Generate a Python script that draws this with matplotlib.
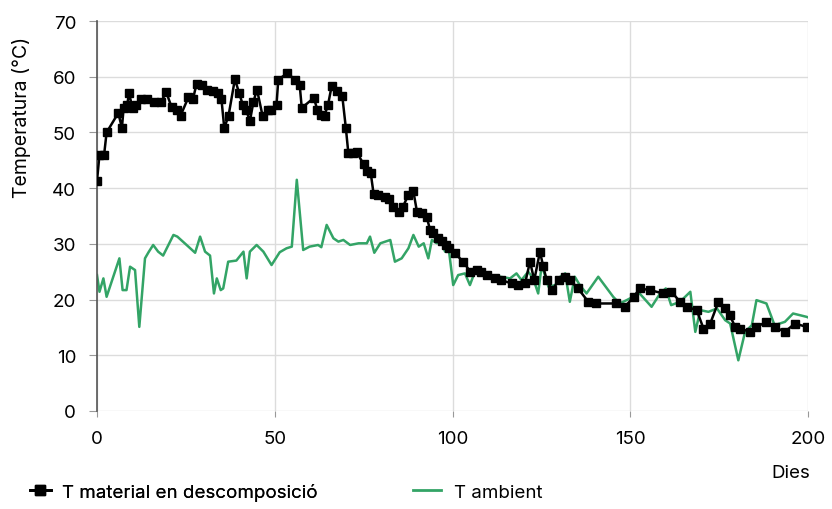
import matplotlib
matplotlib.use("Agg")
import matplotlib.pyplot as plt
from matplotlib.lines import Line2D

plt.rcParams['font.family'] = ['Inter', 'DejaVu Sans']

# Temperature of the composting material (days, degC)
mat_days = [0, 0.7, 2, 2.7, 6, 7, 7.5, 8.5, 9, 10, 11, 12.5, 14, 16, 18, 19.5, 21, 22.5,
            23.5, 25.7, 27, 28, 29.5, 31, 32.5, 34, 35, 35.8, 37, 38.8, 40, 41, 42, 43, 44,
            45, 46.6, 48, 49, 50.5, 51, 53.5, 55.7, 57, 57.6, 61, 62, 63, 64, 65, 66, 67.5,
            69, 70, 70.7, 72, 73, 75, 76, 77, 77.8, 79, 81, 82, 83.4, 85, 86, 87.6, 89, 90,
            91.5, 92.7, 93.7, 94.5, 95.8, 97, 98.3, 99, 100.7, 103, 105, 107, 108, 109.7,
            112, 113.7, 116.6, 118.5, 120.4, 121.8, 123, 124.6, 125.5, 126.5, 128, 130,
            131.6, 133, 135.3, 138.2, 140.5, 146, 148.5, 151, 152.7, 155.5, 159.3, 161.6,
            164, 165.9, 168.7, 170.6, 172.5, 174.8, 176.7, 178, 179.5, 181, 183.7, 185.5,
            188.3, 190.6, 193.5, 196.3, 199.6]
mat_temp = [41.3, 46, 46, 50, 53.5, 50.8, 54.4, 55, 57, 54.4, 55, 56, 56, 55.5, 55.5, 57.2,
            54.5, 54, 53, 56.3, 56, 58.7, 58.5, 57.7, 57.4, 57, 56, 50.8, 53, 59.6, 57, 55,
            54, 52, 55.5, 57.7, 52.9, 54, 54, 55, 59.5, 60.6, 59.5, 58.6, 54.4, 56.2, 54,
            53.2, 53, 55, 58.3, 57.4, 56.5, 50.8, 46.3, 46.3, 46.5, 44.3, 43, 42.7, 39, 38.8,
            38.5, 38, 36.7, 35.8, 36.6, 38.8, 39.4, 35.8, 35.5, 34.9, 32.5, 32, 31, 30.5,
            29.8, 29.2, 28.3, 26.8, 25, 25.3, 25, 24.5, 23.8, 23.5, 22.9, 22.6, 22.9, 26.8,
            23.5, 28.6, 26, 23.5, 21.7, 23.5, 24.1, 23.5, 22, 19.6, 19.3, 19.3, 18.7, 20.5,
            22, 21.7, 21.1, 21.4, 19.6, 18.7, 18.1, 14.8, 15.7, 19.6, 18.4, 17.2, 15.1, 14.8,
            14.2, 15.1, 16, 15.1, 14.2, 15.7, 15.1]

# Ambient temperature
amb_days = [0, 0.7, 1.8, 2.7, 6.3, 7.2, 8.3, 9.3, 10.7, 11.9, 13.5, 14.5, 15.8, 17.2, 18.6,
            21.5, 22.6, 25.2, 27.6, 29, 30.4, 31.8, 32.9, 33.7, 34.8, 35.5, 36.9, 39.2,
            41.2, 42.1, 43, 44.9, 46.8, 49.1, 51.4, 53.3, 54.8, 56.2, 58, 59.8, 62.2, 63.1,
            64.6, 66.5, 67.9, 69.3, 71.2, 73.6, 75.9, 76.8, 78, 79.7, 81.1, 82.5, 83.8,
            85.7, 87.6, 89, 90.5, 91.9, 93.2, 94.2, 95.6, 96.5, 97.9, 98.8, 100.2, 101.6,
            103.5, 104.9, 106.3, 107.8, 110.6, 113.4, 116.2, 118, 119.4, 121.3, 122.7,
            124.1, 125.1, 127, 128.9, 130.3, 131.7, 133, 134.4, 135.8, 137.7, 141, 145.2,
            147, 149, 150.8, 152.2, 156, 158.4, 160, 161.5, 164, 166.9, 168.3, 169.7, 172,
            174.4, 176.7, 178.1, 180.4, 182.3, 184.2, 185.5, 188.3, 190.6, 193.5, 195.8,
            199.6, 200]
amb_temp = [24.4, 21.4, 23.8, 20.5, 27.4, 21.7, 21.7, 25.9, 25.3, 15.1, 27.4, 28.5, 29.8,
            28.6, 27.9, 31.6, 31.3, 29.8, 28.4, 31.3, 28.6, 27.9, 21.1, 23.8, 21.7, 22,
            26.8, 27, 28.6, 23.8, 28.6, 29.8, 28.6, 26.2, 28.5, 29.2, 29.5, 41.5, 28.9,
            29.5, 29.8, 29.4, 33.4, 31, 30.4, 30.7, 29.8, 30.1, 30.1, 31.3, 28.4, 30.1,
            30.4, 30.7, 26.8, 27.4, 29.2, 31.6, 29.5, 30.1, 27.4, 30.7, 30.1, 31.3, 28.6,
            29.8, 22.6, 24.4, 24.7, 22.6, 25, 25.6, 24.1, 24.1, 23.8, 24.7, 23.5, 25, 23.8,
            21.1, 26.2, 22.3, 22.6, 24.1, 24.7, 19.6, 24.1, 22.6, 21.1, 24.1, 20.5, 19.3,
            19.9, 20.5, 21.4, 18.7, 21.1, 22, 19, 19.6, 21.4, 14.2, 18.1, 17.8, 18.4, 16.3,
            15.7, 9.1, 14.2, 15.4, 19.9, 19.3, 15.4, 16, 17.5, 16.9, 16.8]

x_ticks = [0, 50, 100, 150, 200]
y_ticks = [0, 10, 20, 30, 40, 50, 60, 70]

mat_label = 'T material en descomposició'
amb_label = 'T ambient'
green = '#33a466'

fig = plt.figure(figsize=(8.32, 5.10), dpi=100)
ax = fig.add_axes([97 / 832, 1 - 412 / 510, 711 / 832, 390 / 510])

ax.plot(amb_days, amb_temp, color=green, lw=1.8, zorder=2)
ax.plot(mat_days, mat_temp, color='black', lw=1.8, marker='s', ms=6, zorder=3)

ax.set_xlim(0, 200)
ax.set_ylim(0, 70)
ax.set_xticks(x_ticks)
ax.set_yticks(y_ticks)
ax.grid(True, color='#dcdcdc', lw=1)
ax.set_axisbelow(True)
for s in ['top', 'right', 'bottom']:
    ax.spines[s].set_visible(False)
ax.spines['left'].set_color('#555555')
ax.spines['left'].set_linewidth(1.2)
ax.tick_params(axis='y', length=6, color='#999999', labelsize=13.5, pad=9)
ax.tick_params(axis='x', length=4, color='#999999', labelsize=13.5, pad=10)

fig.text(22 / 832, 1 - 117 / 510, 'Temperatura (°C)', rotation=90,
         ha='center', va='center', fontsize=14)
fig.text(810 / 832, 1 - 474 / 510, 'Dies', ha='right', va='center', fontsize=13.5)

# two separate legend entries, placed where the reference has them
mat_handle = Line2D([], [], color='black', lw=2, marker='s', ms=6.5)
amb_handle = Line2D([], [], color=green, lw=2)
leg1 = fig.legend([mat_handle], [mat_label], frameon=False, fontsize=13.5,
                  loc='center left', bbox_to_anchor=(30 / 832, 1 - 493 / 510),
                  handlelength=1.1, handletextpad=0.6, borderpad=0, borderaxespad=0)
fig.legend([amb_handle], [amb_label], frameon=False, fontsize=13.5,
           loc='center left', bbox_to_anchor=(413 / 832, 1 - 493 / 510),
           handlelength=1.5, handletextpad=0.7, borderpad=0, borderaxespad=0)
fig.add_artist(leg1)

fig.savefig('out.png', dpi=100)
